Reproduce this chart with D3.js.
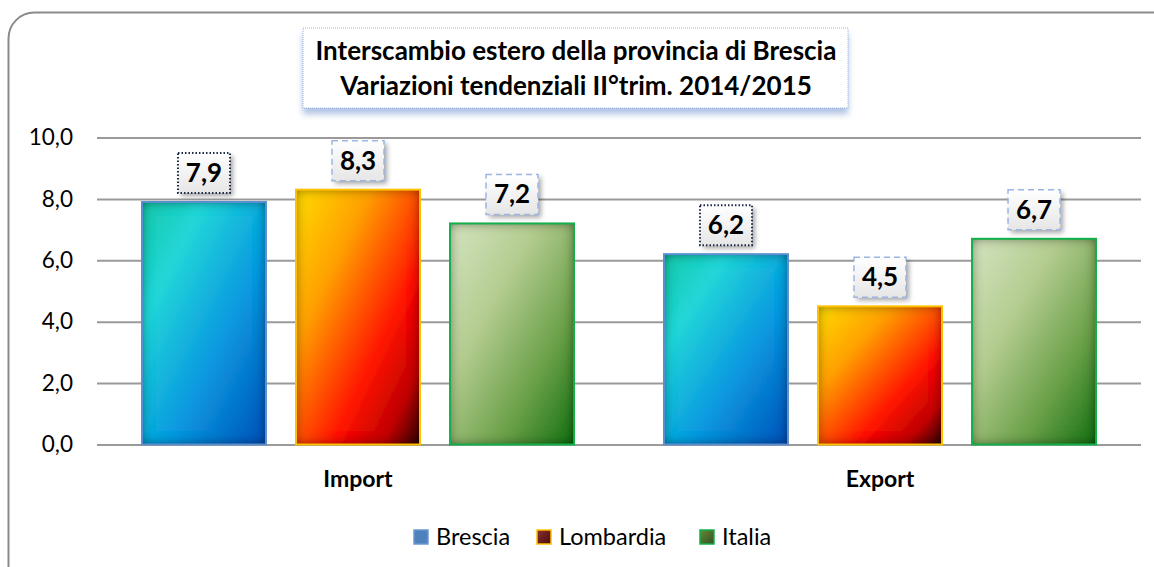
<!DOCTYPE html>
<html>
<head>
<meta charset="utf-8">
<script src="https://cdn.jsdelivr.net/npm/d3@7"></script>
<style>
  html, body { margin: 0; padding: 0; background: #fff; }
  svg { display: block; font-family: Lato, "Open Sans", sans-serif; }
</style>
</head>
<body>
<svg id="chart"></svg>
<script>
// chart data
var categories = ["Import", "Export"];
var seriesNames = ["Brescia", "Lombardia", "Italia"];
var brescia = [7.9, 6.2];
var lombardia = [8.3, 4.5];
var italia = [7.2, 6.7];
var yTicks = [0, 2, 4, 6, 8, 10];
var titleLines = ["Interscambio estero della provincia di Brescia", "Variazioni tendenziali II°trim. 2014/2015"];

var width = 1154, height = 567;
var plotLeft = 97, plotRight = 1141, plotTop = 137.5, plotBottom = 444.5;

var svg = d3.select("#chart").attr("width", width).attr("height", height);
var defs = svg.append("defs");

// gradients for the bars
function diagGradient(id, stops) {
    var g = defs.append("linearGradient").attr("id", id)
        .attr("x1", 0).attr("y1", 0).attr("x2", 1).attr("y2", 1);
    stops.forEach(function(s) {
        g.append("stop").attr("offset", s[0]).attr("stop-color", s[1]);
    });
}
diagGradient("g-brescia", [[0, "#18c8a8"], [0.25, "#22d6d8"], [0.6, "#0a9ae0"], [1, "#0050b8"]]);
diagGradient("g-lombardia", [[0, "#ffdc00"], [0.3, "#ffa000"], [0.65, "#ff1500"], [0.85, "#c00000"], [1, "#300000"]]);
diagGradient("g-italia", [[0, "#d4e4c0"], [0.35, "#b4cc90"], [0.7, "#6aa048"], [1, "#157015"]]);
diagGradient("g-leg-lomb", [[0, "#8a3030"], [1, "#4a0c0c"]]);
diagGradient("g-leg-ita", [[0, "#6a8a3a"], [1, "#2f5020"]]);

var lblGrad = defs.append("linearGradient").attr("id", "g-label")
    .attr("x1", 0).attr("y1", 0).attr("x2", 0).attr("y2", 1);
lblGrad.append("stop").attr("offset", 0).attr("stop-color", "#ffffff");
lblGrad.append("stop").attr("offset", 1).attr("stop-color", "#e6e6e6");

// inner shadow for the bars
var inner = defs.append("filter").attr("id", "inner")
    .attr("x", "-20%").attr("y", "-20%").attr("width", "140%").attr("height", "140%");
inner.append("feComponentTransfer").attr("in", "SourceAlpha").attr("result", "inv")
    .append("feFuncA").attr("type", "table").attr("tableValues", "1 0");
inner.append("feGaussianBlur").attr("in", "inv").attr("stdDeviation", 6).attr("result", "blur");
inner.append("feComposite").attr("in", "blur").attr("in2", "SourceAlpha").attr("operator", "in").attr("result", "sh");
inner.append("feFlood").attr("flood-color", "#000").attr("flood-opacity", 0.9).attr("result", "col");
inner.append("feComposite").attr("in", "col").attr("in2", "sh").attr("operator", "in").attr("result", "shadow");
var m1 = inner.append("feMerge");
m1.append("feMergeNode").attr("in", "SourceGraphic");
m1.append("feMergeNode").attr("in", "shadow");

// drop shadows
function dropShadow(id, dx, dy, sd, color, op) {
    var f = defs.append("filter").attr("id", id)
        .attr("x", "-20%").attr("y", "-30%").attr("width", "150%").attr("height", "170%");
    f.append("feGaussianBlur").attr("in", "SourceAlpha").attr("stdDeviation", sd).attr("result", "b");
    f.append("feOffset").attr("in", "b").attr("dx", dx).attr("dy", dy).attr("result", "o");
    f.append("feFlood").attr("flood-color", color).attr("flood-opacity", op).attr("result", "c");
    f.append("feComposite").attr("in", "c").attr("in2", "o").attr("operator", "in").attr("result", "s");
    var m = f.append("feMerge");
    m.append("feMergeNode").attr("in", "s");
    m.append("feMergeNode").attr("in", "SourceGraphic");
}
dropShadow("sh-title", 0, 6, 3, "#8eaad8", 0.7);
dropShadow("sh-label", 3, 3, 2.5, "#000", 0.35);

// outer frame
svg.append("rect")
    .attr("x", 8.5).attr("y", 12.5)
    .attr("width", 1180).attr("height", 580)
    .attr("rx", 26).attr("ry", 26)
    .attr("fill", "#fff")
    .attr("stroke", "#8a8a8a")
    .attr("stroke-width", 2);

// scales
var x0 = d3.scaleBand().domain(categories).range([plotLeft, plotRight]);
var x1 = d3.scaleBand().domain(seriesNames).range([0, x0.bandwidth()])
    .paddingInner(0.195).paddingOuter(0.292);
var y = d3.scaleLinear().domain([0, 10]).range([plotBottom, plotTop]);

var fmt = function(v) { return d3.format(".1f")(v).replace(".", ","); };

// grid lines + tick labels
var yAxis = d3.axisLeft(y).tickValues(yTicks).tickSize(-(plotRight - plotLeft)).tickFormat(fmt).tickPadding(24);
var gy = svg.append("g").attr("transform", "translate(" + plotLeft + ",0)").call(yAxis);
gy.select(".domain").remove();
gy.selectAll(".tick line").attr("stroke", "#9a9a9a").attr("stroke-width", 2);
gy.selectAll(".tick text")
    .attr("font-family", "Lato, sans-serif")
    .attr("font-size", 22.5)
    .attr("fill", "#000");

// bars
var rows = categories.map(function(c, i) {
    return { cat: c, vals: [
        { s: "Brescia", v: brescia[i] },
        { s: "Lombardia", v: lombardia[i] },
        { s: "Italia", v: italia[i] }
    ]};
});
var fills = { "Brescia": "url(#g-brescia)", "Lombardia": "url(#g-lombardia)", "Italia": "url(#g-italia)" };
var strokes = { "Brescia": "#5b8fd0", "Lombardia": "#ffc000", "Italia": "#12b04a" };

var groups = svg.append("g").selectAll("g")
    .data(rows)
    .enter()
    .append("g")
    .attr("transform", function(d) { return "translate(" + x0(d.cat) + ",0)"; });

groups.selectAll("rect.fill")
    .data(function(d) { return d.vals; })
    .enter()
    .append("rect")
    .attr("class", "fill")
    .attr("x", function(d) { return x1(d.s); })
    .attr("y", function(d) { return y(d.v); })
    .attr("width", x1.bandwidth())
    .attr("height", function(d) { return plotBottom - y(d.v); })
    .attr("fill", function(d) { return fills[d.s]; })
    .attr("filter", "url(#inner)");

groups.selectAll("rect.edge")
    .data(function(d) { return d.vals; })
    .enter()
    .append("rect")
    .attr("class", "edge")
    .attr("x", function(d) { return x1(d.s); })
    .attr("y", function(d) { return y(d.v); })
    .attr("width", x1.bandwidth())
    .attr("height", function(d) { return plotBottom - y(d.v); })
    .attr("fill", "none")
    .attr("stroke", function(d) { return strokes[d.s]; })
    .attr("stroke-width", 2);

// data labels
var lblW = 52, lblH = 40;
var labels = groups.selectAll("g.lbl")
    .data(function(d) { return d.vals; })
    .enter()
    .append("g")
    .attr("class", "lbl")
    .attr("transform", function(d) {
        return "translate(" + (x1(d.s) + x1.bandwidth() / 2) + "," + (y(d.v) - 9 - lblH / 2) + ")";
    });
labels.append("rect")
    .attr("x", -lblW / 2).attr("y", -lblH / 2)
    .attr("width", lblW).attr("height", lblH)
    .attr("fill", "url(#g-label)")
    .attr("filter", "url(#sh-label)");
labels.append("rect")
    .attr("x", -lblW / 2).attr("y", -lblH / 2)
    .attr("width", lblW).attr("height", lblH)
    .attr("fill", "none")
    .attr("stroke", function(d) { return d.s == "Brescia" ? "#1c2a44" : "#9cb6e4"; })
    .attr("stroke-width", function(d) { return d.s == "Brescia" ? 2 : 1.5; })
    .attr("stroke-dasharray", function(d) { return d.s == "Brescia" ? "1.5,2" : "6,4"; });
labels.append("text")
    .attr("y", 9)
    .attr("text-anchor", "middle")
    .attr("font-weight", "bold")
    .attr("font-size", 26)
    .attr("fill", "#000")
    .text(function(d) { return fmt(d.v); });

// category labels
svg.append("g").selectAll("text")
    .data(categories)
    .enter()
    .append("text")
    .attr("x", function(d) { return x0(d) + x0.bandwidth() / 2; })
    .attr("y", 487)
    .attr("text-anchor", "middle")
    .attr("font-weight", "bold")
    .attr("font-size", 23)
    .attr("fill", "#000")
    .text(function(d) { return d; });

// title box
svg.append("rect")
    .attr("x", 303).attr("y", 28)
    .attr("width", 545).attr("height", 80)
    .attr("fill", "#fff")
    .attr("stroke", "#9ab4e0")
    .attr("stroke-width", 1)
    .attr("stroke-dasharray", "1,1")
    .attr("filter", "url(#sh-title)");
svg.append("g").selectAll("text")
    .data(titleLines)
    .enter()
    .append("text")
    .attr("x", 576)
    .attr("y", function(d, i) { return 60 + i * 35; })
    .attr("text-anchor", "middle")
    .attr("font-weight", "bold")
    .attr("font-size", 26)
    .attr("fill", "#000")
    .text(function(d) { return d; });

// legend
var legX = [413, 536, 699];
var legFill = { "Brescia": "#4f81bd", "Lombardia": "url(#g-leg-lomb)", "Italia": "url(#g-leg-ita)" };
var legStroke = { "Brescia": "#6b98d4", "Lombardia": "#ffc000", "Italia": "#12b04a" };
var leg = svg.append("g").selectAll("g")
    .data(seriesNames)
    .enter()
    .append("g")
    .attr("transform", function(d, i) { return "translate(" + legX[i] + ",530)"; });
leg.append("rect")
    .attr("x", 1).attr("y", 0)
    .attr("width", 14).attr("height", 14)
    .attr("fill", function(d) { return legFill[d]; })
    .attr("stroke", function(d) { return legStroke[d]; })
    .attr("stroke-width", 1.5);
leg.append("text")
    .attr("x", 23)
    .attr("y", 15)
    .attr("font-size", 23.5)
    .attr("fill", "#000")
    .text(function(d) { return d; });
</script>
</body>
</html>
